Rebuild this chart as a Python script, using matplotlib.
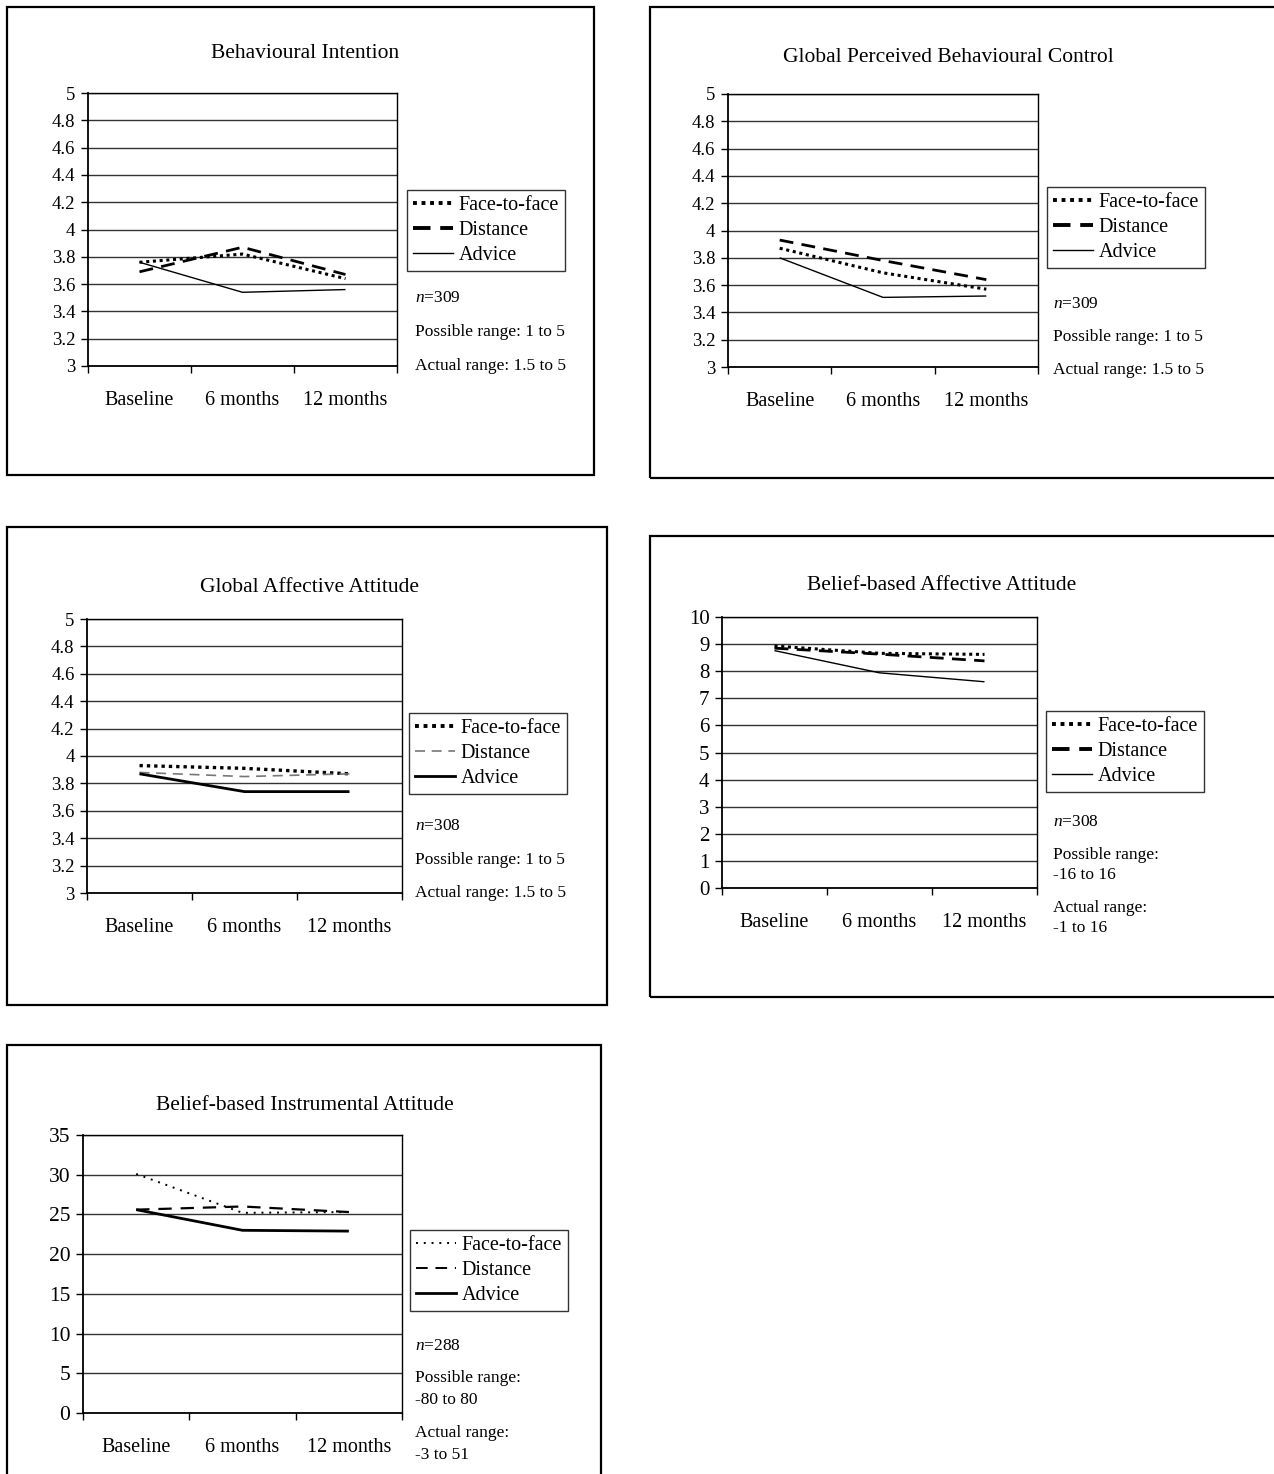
import matplotlib
matplotlib.use("Agg")
import matplotlib.pyplot as plt
from matplotlib.lines import Line2D
from matplotlib.patches import Rectangle

plt.rcParams['font.family'] = ['Liberation Serif', 'DejaVu Serif']
plt.rcParams['mathtext.fontset'] = 'custom'
plt.rcParams['mathtext.it'] = 'Liberation Serif:italic'
plt.rcParams['mathtext.rm'] = 'Liberation Serif'

categories = ["Baseline", "6 months", "12 months"]
series_names = ["Face-to-face", "Distance", "Advice"]

bi_face = [3.76, 3.82, 3.64]
bi_distance = [3.69, 3.87, 3.67]
bi_advice = [3.76, 3.54, 3.56]

gpbc_face = [3.87, 3.69, 3.57]
gpbc_distance = [3.93, 3.78, 3.64]
gpbc_advice = [3.80, 3.51, 3.52]

gaa_face = [3.93, 3.91, 3.87]
gaa_distance = [3.88, 3.85, 3.87]
gaa_advice = [3.87, 3.74, 3.74]

baa_face = [8.93, 8.66, 8.62]
baa_distance = [8.85, 8.63, 8.38]
baa_advice = [8.76, 7.94, 7.61]

bia_face = [30.1, 25.2, 25.3]
bia_distance = [25.6, 26.0, 25.3]
bia_advice = [25.6, 23.0, 22.9]

ticks_1to5 = [3, 3.2, 3.4, 3.6, 3.8, 4, 4.2, 4.4, 4.6, 4.8, 5]
ticks_0to10 = [0, 1, 2, 3, 4, 5, 6, 7, 8, 9, 10]
ticks_0to35 = [0, 5, 10, 15, 20, 25, 30, 35]

W, H = 1274, 1474
fig = plt.figure(figsize=(W / 100, H / 100), dpi=100)


def rect(x0, y0, x1, y1):
    return [x0 / W, 1 - y1 / H, (x1 - x0) / W, (y1 - y0) / H]


def fx(x):
    return x / W


def fy(y):
    return 1 - y / H


def fmt(v):
    return ("%g" % v)


NOTE_FS = 12.5


def panel(box, title, title_xy, plot, data, styles, yticks, ylab_fs, legend_xy, n, notes):
    bx0, by0, bx1, by1 = box
    fig.add_artist(Rectangle((fx(bx0), fy(by1)), (bx1 - bx0) / W, (by1 - by0) / H,
                             transform=fig.transFigure, fill=False,
                             edgecolor='black', linewidth=1.6, zorder=0))
    fig.text(fx(title_xy[0]), fy(title_xy[1]), title, ha='center', va='center',
             fontsize=15.5)
    ax = fig.add_axes(rect(*plot))
    xs = [0.5, 1.5, 2.5]
    handles = []
    for vals, st, name in zip(data, styles, series_names):
        ax.plot(xs, vals, color=st['color'], linewidth=st['lw'],
                linestyle=st['ls'], solid_capstyle='butt',
                dash_capstyle='butt', label=name)
        handles.append(Line2D([], [], color=st['color'], linewidth=st['lg_lw'],
                              linestyle=st['lg_ls'], dash_capstyle='butt'))
    ax.set_xlim(0, 3)
    ax.set_ylim(yticks[0], yticks[-1])
    ax.set_yticks(yticks, labels=[fmt(v) for v in yticks])
    ax.set_xticks([0, 1, 2, 3], labels=[])
    ax.set_xticks(xs, labels=categories, minor=True)
    ax.tick_params(axis='x', which='major', direction='out', length=5, width=1)
    ax.tick_params(axis='x', which='minor', length=0, pad=18, labelsize=14.5)
    ax.tick_params(axis='y', direction='out', length=5, width=1, pad=4, labelsize=ylab_fs)
    ax.yaxis.grid(True, color='#333333', linewidth=1)
    ax.set_axisbelow(True)
    for s in ax.spines.values():
        s.set_color('black')
        s.set_linewidth(1)
    ax.spines['left'].set_linewidth(1.3)
    ax.spines['bottom'].set_linewidth(1.3)
    leg = ax.legend(handles, series_names, loc='upper left',
                    bbox_to_anchor=(fx(legend_xy[0]), fy(legend_xy[1])),
                    bbox_transform=fig.transFigure, frameon=True, fancybox=False,
                    edgecolor='black', fontsize=14.5, handlelength=2.0,
                    handletextpad=0.25, borderpad=0.3, labelspacing=0.3,
                    borderaxespad=0)
    leg.get_frame().set_linewidth(1)
    fig.text(fx(n[0]), fy(n[1]), r'$\mathit{n}$' + '=' + n[2], ha='left', va='center',
             fontsize=NOTE_FS)
    for (x, y, t) in notes:
        fig.text(fx(x), fy(y), t, ha='left', va='center', fontsize=NOTE_FS)
    return ax


style_a = [
    dict(color='black', lw=2.2, ls=(0, (1, 1.2)), lg_lw=2.8, lg_ls=(0, (1, 1.2))),
    dict(color='black', lw=2.0, ls=(0, (5, 3)), lg_lw=2.8, lg_ls=(0, (4.5, 2.5))),
    dict(color='black', lw=1.0, ls='-', lg_lw=1.0, lg_ls='-'),
]
style_c = [
    dict(color='black', lw=2.4, ls=(0, (1, 1.2)), lg_lw=2.8, lg_ls=(0, (1, 1.2))),
    dict(color='#777777', lw=1.2, ls=(0, (6, 4)), lg_lw=1.2, lg_ls=(0, (6, 4))),
    dict(color='black', lw=2.0, ls='-', lg_lw=2.0, lg_ls='-'),
]
style_e = [
    dict(color='black', lw=1.4, ls=(0, (1, 3)), lg_lw=1.4, lg_ls=(0, (1, 3))),
    dict(color='black', lw=1.6, ls=(0, (6, 4)), lg_lw=1.4, lg_ls=(0, (6, 4))),
    dict(color='black', lw=2.0, ls='-', lg_lw=2.0, lg_ls='-'),
]

# Panel 1
panel((7, 7, 594, 475), "Behavioural Intention", (305, 53), (88, 93, 397, 366),
      [bi_face, bi_distance, bi_advice], style_a, ticks_1to5, 13.5, (407, 190),
      (415, 298, "309"),
      [(415, 332, "Possible range: 1 to 5"), (415, 366, "Actual range: 1.5 to 5")])

# Panel 2
panel((650, 7, 1290, 478), "Global Perceived Behavioural Control", (948, 57), (728, 94, 1038, 367),
      [gpbc_face, gpbc_distance, gpbc_advice], style_a, ticks_1to5, 13.5, (1047, 187),
      (1053, 304, "309"),
      [(1053, 337, "Possible range: 1 to 5"), (1053, 370, "Actual range: 1.5 to 5")])

# Panel 3
panel((7, 527, 607, 1005), "Global Affective Attitude", (310, 588), (87, 619, 402, 893),
      [gaa_face, gaa_distance, gaa_advice], style_c, ticks_1to5, 13.5, (409, 713),
      (415, 826, "308"),
      [(415, 860, "Possible range: 1 to 5"), (415, 893, "Actual range: 1.5 to 5")])

# Panel 4
panel((650, 536, 1290, 997), "Belief-based Affective Attitude", (942, 585), (722, 617, 1037, 888),
      [baa_face, baa_distance, baa_advice], style_a, ticks_0to10, 15, (1046, 711),
      (1053, 822, "308"),
      [(1053, 855, "Possible range:"), (1053, 875, "-16 to 16"),
       (1053, 908, "Actual range:"), (1053, 928, "-1 to 16")])

# Panel 5
panel((7, 1045, 601, 1490), "Belief-based Instrumental Attitude", (305, 1106), (83, 1135, 402, 1413),
      [bia_face, bia_distance, bia_advice], style_e, ticks_0to35, 15.5, (410, 1230),
      (415, 1346, "288"),
      [(415, 1378, "Possible range:"), (415, 1400, "-80 to 80"),
       (415, 1433, "Actual range:"), (415, 1455, "-3 to 51")])

fig.savefig("out.png", dpi=100, facecolor='white')
